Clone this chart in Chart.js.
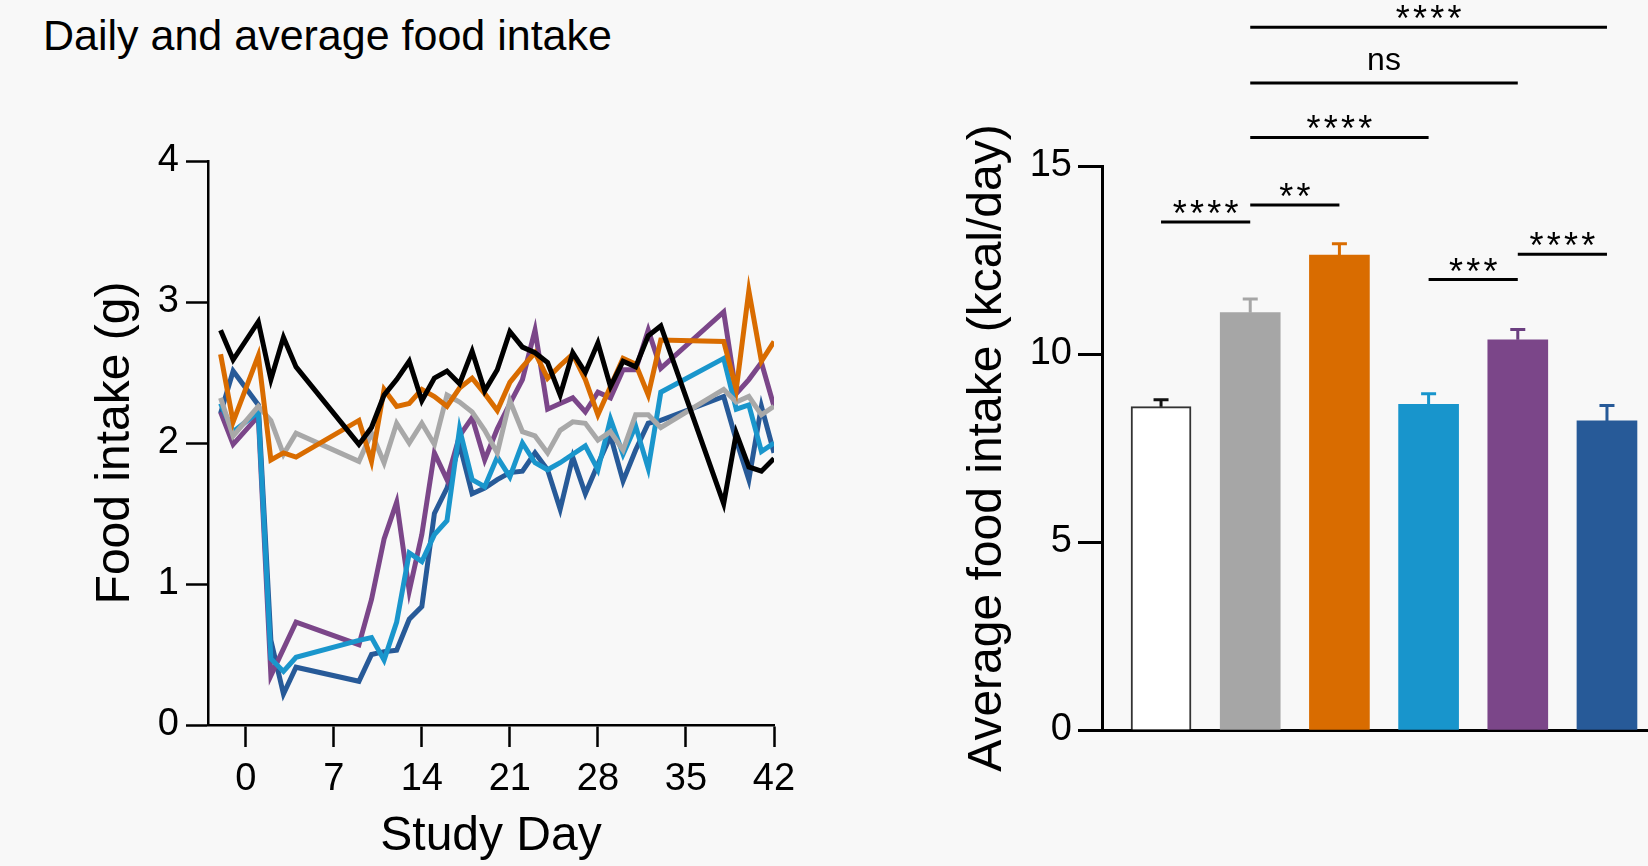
<!DOCTYPE html>
<html>
<head>
<meta charset="utf-8">
<script src="https://cdn.jsdelivr.net/npm/chart.js@4.4.1/dist/chart.umd.min.js"></script>
<style>
  html, body { margin: 0; padding: 0; background: #f8f8f8; width: 1648px; height: 866px; overflow: hidden; }
  #title { position: absolute; left: 43px; top: 14px; font: 43px/43px "Liberation Sans", Arial, sans-serif; color: #000; white-space: nowrap; }
  #daily { position: absolute; left: 0; top: 0; }
  #avg { position: absolute; left: 860px; top: 0; }
</style>
</head>
<body>
<div id="title">Daily and average food intake</div>
<canvas id="daily" width="820" height="866"></canvas>
<canvas id="avg" width="788" height="866"></canvas>
<script>
// ---- daily food intake (g) per study day ----
const studyDays = [-2, -1, 1, 2, 3, 4, 9, 10, 11, 12, 13, 14, 15, 16, 17, 18, 19, 20, 21, 22, 23, 24, 25, 26, 27, 28, 29, 30, 31, 32, 33, 38, 39, 40, 41, 42];
const dayTicks = [0, 7, 14, 21, 28, 35, 42];
const intakeTicks = [0, 1, 2, 3, 4];

const blackSeries  = [2.80, 2.59, 2.86, 2.45, 2.75, 2.54, 1.99, 2.11, 2.34, 2.45, 2.58, 2.30, 2.46, 2.51, 2.42, 2.65, 2.37, 2.52, 2.79, 2.68, 2.64, 2.57, 2.34, 2.64, 2.50, 2.71, 2.40, 2.58, 2.54, 2.76, 2.83, 1.57, 2.07, 1.83, 1.80, 1.89];
const orangeSeries = [2.63, 2.15, 2.62, 1.88, 1.93, 1.90, 2.16, 1.87, 2.38, 2.26, 2.28, 2.38, 2.33, 2.26, 2.39, 2.46, 2.35, 2.23, 2.43, 2.54, 2.64, 2.46, 2.55, 2.63, 2.45, 2.20, 2.40, 2.60, 2.56, 2.34, 2.73, 2.72, 2.38, 3.08, 2.58, 2.72];
const greySeries   = [2.32, 2.05, 2.26, 2.16, 1.92, 2.07, 1.87, 2.07, 1.86, 2.14, 2.00, 2.14, 1.99, 2.34, 2.29, 2.22, 2.09, 1.93, 2.30, 2.08, 2.05, 1.93, 2.09, 2.15, 2.14, 2.02, 2.08, 1.95, 2.20, 2.20, 2.11, 2.38, 2.29, 2.33, 2.20, 2.26];
const cyanSeries   = [2.28, 2.08, 2.22, 0.47, 0.38, 0.48, 0.60, 0.62, 0.46, 0.73, 1.22, 1.16, 1.35, 1.45, 2.10, 1.74, 1.69, 1.90, 1.76, 2.00, 1.86, 1.81, 1.86, 1.92, 1.98, 1.81, 2.17, 1.92, 2.12, 1.82, 2.36, 2.60, 2.24, 2.27, 1.94, 2.00];
const purpleSeries = [2.22, 1.99, 2.19, 0.35, 0.54, 0.73, 0.57, 0.89, 1.32, 1.58, 0.95, 1.35, 1.93, 1.74, 2.05, 2.18, 1.88, 2.10, 2.28, 2.45, 2.80, 2.24, 2.28, 2.32, 2.22, 2.36, 2.32, 2.52, 2.52, 2.80, 2.53, 2.93, 2.35, 2.45, 2.57, 2.26];
const navySeries   = [2.21, 2.51, 2.27, 0.60, 0.22, 0.41, 0.31, 0.50, 0.52, 0.53, 0.75, 0.84, 1.50, 1.68, 1.99, 1.64, 1.68, 1.74, 1.79, 1.80, 1.93, 1.81, 1.53, 1.90, 1.64, 1.85, 2.05, 1.73, 1.95, 2.14, 2.16, 2.33, 2.02, 1.74, 2.26, 1.93];

// ---- average food intake (kcal/day), mean and SEM per group ----
const groupSlots = [1, 2, 3, 4, 5, 6];
const avgMeans   = [8.60, 11.10, 12.63, 8.66, 10.38, 8.22];
const avgErrors  = [0.18, 0.36, 0.30, 0.28, 0.27, 0.41];
const avgTicks   = [0, 5, 10, 15];

// significance brackets: left slot, right slot, bracket height (kcal/day), label
const bracketFrom   = [1, 2, 2, 2, 2, 4, 5];
const bracketTo     = [2, 3, 4, 5, 6, 5, 6];
const bracketLevel  = [13.51, 13.96, 15.76, 17.21, 18.69, 11.98, 12.65];
const bracketLabels = ['****', '**', '****', 'ns', '****', '***', '****'];

const FONT = '"Liberation Sans", Arial, sans-serif';
const colBlack = '#000000', colOrange = '#d96c00', colGrey = '#a8a8a8',
      colCyan = '#1a96cc', colPurple = '#7b4689', colNavy = '#275a98';

const pts = vals => studyDays.map((d, i) => ({ x: d, y: vals[i] }));

function lineSet(vals, color, order) {
  return { data: pts(vals), borderColor: color, backgroundColor: color, borderWidth: 5,
           pointRadius: 0, tension: 0, borderJoinStyle: 'miter', order };
}

Chart.defaults.font.family = FONT;
Chart.defaults.color = '#000';

new Chart(document.getElementById('daily'), {
  type: 'line',
  data: {
    datasets: [
      lineSet(blackSeries, colBlack, 1),
      lineSet(orangeSeries, colOrange, 2),
      lineSet(greySeries, colGrey, 3),
      lineSet(cyanSeries, colCyan, 4),
      lineSet(purpleSeries, colPurple, 5),
      lineSet(navySeries, colNavy, 6)
    ]
  },
  options: {
    responsive: false, animation: false, devicePixelRatio: 1,
    layout: { padding: { top: 161, right: 46, left: 0, bottom: 0 } },
    plugins: { legend: { display: false }, tooltip: { enabled: false } },
    scales: {
      x: {
        type: 'linear', min: -3, max: 42,
        afterBuildTicks: s => { s.ticks = dayTicks.map(v => ({ value: v })); },
        afterFit: s => { s.height = 141; },
        grid: { display: true, drawOnChartArea: false, drawTicks: true, tickLength: 22, tickWidth: 2.5, tickColor: '#000' },
        border: { display: true, color: '#000', width: 2.5 },
        ticks: { font: { size: 38 }, padding: 10, maxRotation: 0, autoSkip: false },
        title: { display: true, text: 'Study Day', font: { size: 48 }, padding: { top: 0, bottom: 0 } }
      },
      y: {
        type: 'linear', min: 0, max: 4,
        afterBuildTicks: s => { s.ticks = intakeTicks.map(v => ({ value: v })); },
        afterFit: s => { s.width = 208; },
        grid: { display: true, drawOnChartArea: false, drawTicks: true, tickLength: 22, tickWidth: 2.5, tickColor: '#000' },
        border: { display: true, color: '#000', width: 2.5 },
        ticks: { font: { size: 38 }, padding: 7 },
        title: { display: true, text: 'Food intake (g)', font: { size: 48 }, padding: { top: 87, bottom: 0 } }
      }
    }
  }
});

// error bars drawn on top of each bar
const errorBars = {
  id: 'errorBars',
  afterDatasetsDraw(chart) {
    const { ctx, scales: { y } } = chart;
    const meta = chart.getDatasetMeta(0);
    const ds = chart.data.datasets[0];
    ctx.save();
    ctx.lineWidth = 3;
    meta.data.forEach((bar, i) => {
      const top = y.getPixelForValue(avgMeans[i] + avgErrors[i]);
      ctx.strokeStyle = ds.errorColor[i];
      ctx.beginPath();
      ctx.moveTo(bar.x, bar.y);
      ctx.lineTo(bar.x, top);
      ctx.moveTo(bar.x - 7.5, top);
      ctx.lineTo(bar.x + 7.5, top);
      ctx.stroke();
    });
    ctx.restore();
  }
};

// significance brackets between groups
const brackets = {
  id: 'brackets',
  afterDraw(chart) {
    const { ctx, scales: { x, y } } = chart;
    ctx.save();
    ctx.strokeStyle = '#000';
    ctx.fillStyle = '#000';
    ctx.lineWidth = 3;
    bracketLabels.forEach((label, i) => {
      const x1 = x.getPixelForValue(bracketFrom[i]);
      const x2 = x.getPixelForValue(bracketTo[i]);
      const yy = y.getPixelForValue(bracketLevel[i]);
      ctx.beginPath();
      ctx.moveTo(x1, yy);
      ctx.lineTo(x2, yy);
      ctx.stroke();
      const cx = (x1 + x2) / 2;
      ctx.textAlign = 'center';
      ctx.textBaseline = 'alphabetic';
      if (label === 'ns') {
        ctx.font = '32px ' + FONT;
        const m = ctx.measureText(label);
        const centre = yy - 21;
        ctx.fillText(label, cx, centre + (m.actualBoundingBoxAscent - m.actualBoundingBoxDescent) / 2);
      } else {
        ctx.font = '36px ' + FONT;
        const m = ctx.measureText('*');
        const step = 17.3;
        const centre = yy - 15;
        const base = centre + (m.actualBoundingBoxAscent - m.actualBoundingBoxDescent) / 2;
        const n = label.length;
        for (let k = 0; k < n; k++) {
          ctx.fillText('*', cx + (k - (n - 1) / 2) * step, base);
        }
      }
    });
    ctx.restore();
  }
};

new Chart(document.getElementById('avg'), {
  type: 'bar',
  data: {
    datasets: [{
      data: groupSlots.map((g, i) => ({ x: g, y: avgMeans[i] })),
      backgroundColor: ['#ffffff', '#a6a6a6', '#d96c00', '#1895cc', '#7b4689', '#275a98'],
      borderColor: ['#333333', '#a6a6a6', '#d96c00', '#1895cc', '#7b4689', '#275a98'],
      borderWidth: [2, 0, 0, 0, 0, 0],
      errorColor: ['#111111', '#a6a6a6', '#d96c00', '#1895cc', '#6b3f80', '#275a98'],
      barThickness: 60,
      borderSkipped: 'start'
    }]
  },
  options: {
    responsive: false, animation: false, devicePixelRatio: 1,
    layout: { padding: { top: 166, right: 0, left: 0, bottom: 0 } },
    plugins: { legend: { display: false }, tooltip: { enabled: false } },
    scales: {
      x: {
        type: 'linear', min: 0.338, max: 6.46, offset: false, z: 1,
        afterFit: s => { s.height = 136; },
        grid: { display: false },
        border: { display: true, color: '#000', width: 3 },
        ticks: { display: false }
      },
      y: {
        type: 'linear', min: 0, max: 15,
        afterBuildTicks: s => { s.ticks = avgTicks.map(v => ({ value: v })); },
        afterFit: s => { s.width = 242; },
        grid: { display: true, drawOnChartArea: false, drawTicks: true, tickLength: 24, tickWidth: 3, tickColor: '#000' },
        border: { display: true, color: '#000', width: 3 },
        ticks: { font: { size: 38 }, padding: 6 },
        title: { display: true, text: 'Average food intake (kcal/day)', font: { size: 48 }, padding: { top: 99, bottom: 0 } }
      }
    }
  },
  plugins: [errorBars, brackets]
});
</script>
</body>
</html>
